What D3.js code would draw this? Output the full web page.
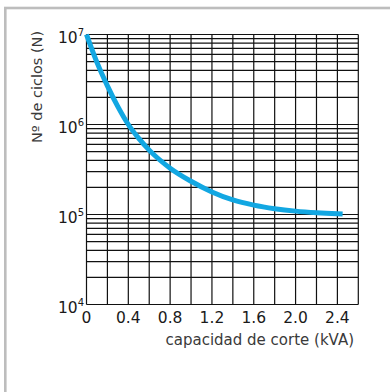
<!DOCTYPE html>
<html>
<head>
<meta charset="utf-8">
<script src="https://cdn.jsdelivr.net/npm/d3@7/dist/d3.min.js"></script>
<style>
  html, body { margin: 0; padding: 0; background: #fff; }
  svg { display: block; }
  text { font-family: "DejaVu Sans", sans-serif; }
</style>
</head>
<body>
<svg id="chart" width="390" height="392"></svg>
<script>
// Switching capacity (kVA) vs. number of operating cycles
const loadKVA   = [0, 0.1, 0.2, 0.3, 0.4, 0.5, 0.6, 0.8, 1.0, 1.2, 1.4, 1.6, 1.8, 2.0, 2.2, 2.4, 2.45];
const cycles    = [1e7, 4.9e6, 2.69e6, 1.58e6, 1.0e6, 7.0e5, 5.19e5, 3.27e5, 2.34e5, 1.78e5, 1.45e5, 1.27e5, 1.16e5, 1.09e5, 1.047e5, 1.02e5, 1.015e5];
const xTickVals = [0, 0.4, 0.8, 1.2, 1.6, 2.0, 2.4];
const xTickText = ["0", "0.4", "0.8", "1.2", "1.6", "2.0", "2.4"];
const xGridVals = [0, 0.2, 0.4, 0.6, 0.8, 1.0, 1.2, 1.4, 1.6, 1.8, 2.0, 2.2, 2.4, 2.6];
const yDecades  = [1e4, 1e5, 1e6, 1e7];
const yExponent = ["4", "5", "6", "7"];
const xTitle = "capacidad de corte (kVA)";
const yTitle = "Nº de ciclos (N)";

const svg = d3.select("#chart");

// outer panel frame (top and left edges visible)
svg.append("rect")
  .attr("x", 5.3).attr("y", 8)
  .attr("width", 420).attr("height", 420)
  .attr("fill", "none")
  .attr("stroke", "#bdbdbd")
  .attr("stroke-width", 2.6);

const x = d3.scaleLinear().domain([0, 2.6]).range([86.5, 358.3]);
const y = d3.scaleLog().domain([1e4, 1e7]).range([304.5, 34.5]);

const grid = svg.append("g").attr("stroke", "#111").attr("stroke-width", 1.2);

// horizontal log grid: 1..9 within every decade
grid.selectAll("line.h")
  .data(y.ticks())
  .join("line")
  .attr("class", "h")
  .attr("x1", x(0)).attr("x2", x(2.6))
  .attr("y1", d => y(d)).attr("y2", d => y(d));

// vertical grid every 0.2 kVA
grid.selectAll("line.v")
  .data(xGridVals)
  .join("line")
  .attr("class", "v")
  .attr("x1", d => x(d)).attr("x2", d => x(d))
  .attr("y1", y(1e7)).attr("y2", y(1e4));

// x tick labels
svg.append("g")
  .selectAll("text")
  .data(xTickVals)
  .join("text")
  .attr("x", d => x(d))
  .attr("y", 323)
  .attr("text-anchor", "middle")
  .attr("font-size", 15.5)
  .attr("fill", "#1a1a1a")
  .text((d, i) => xTickText[i]);

// y tick labels as powers of ten
const yl = svg.append("g")
  .selectAll("text")
  .data(yDecades)
  .join("text")
  .attr("x", 84)
  .attr("y", d => y(d) + 8)
  .attr("text-anchor", "end")
  .attr("font-size", 15.5)
  .attr("fill", "#1a1a1a");
yl.append("tspan").text("10");
yl.append("tspan")
  .attr("font-size", 10)
  .attr("dy", -7)
  .text((d, i) => yExponent[i]);

// axis titles
svg.append("text")
  .attr("x", 354).attr("y", 345)
  .attr("text-anchor", "end")
  .attr("font-size", 15)
  .attr("fill", "#3a3a3a")
  .text(xTitle);

svg.append("text")
  .attr("transform", "translate(42,87) rotate(-90)")
  .attr("text-anchor", "middle")
  .attr("font-size", 14.5)
  .attr("fill", "#3a3a3a")
  .text(yTitle);

// life curve
const line = d3.line()
  .x((d, i) => x(loadKVA[i]))
  .y(d => y(d))
  .curve(d3.curveMonotoneX);

svg.append("path")
  .datum(cycles)
  .attr("d", line)
  .attr("fill", "none")
  .attr("stroke", "#12a7e2")
  .attr("stroke-width", 5);
</script>
</body>
</html>
